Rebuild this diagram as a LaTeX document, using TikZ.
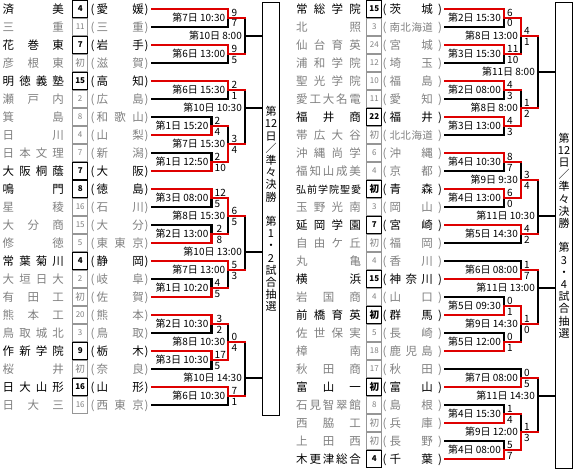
\documentclass[tikz,border=0pt]{standalone}
\usepackage{fontspec}
\setmainfont{Noto Sans CJK JP}
\definecolor{bred}{RGB}{222,0,0}
\definecolor{txtgray}{RGB}{128,128,128}
\definecolor{boxgray}{RGB}{150,150,150}
\tikzset{
 ln/.style={line width=2.2pt, line cap=rect},
 B/.style={ln, draw=black},
 W/.style={ln, draw=bred},
 nm/.style={inner sep=0pt, font=\fontsize{11.5}{12}\selectfont},
 tw/.style={text=black}, tl/.style={text=txtgray},
 cnt/.style={inner sep=0pt, minimum width=15pt},
 bw/.style={draw=black, line width=1.3pt, text=black, minimum height=16.5pt, font=\fontsize{8}{8}\selectfont\bfseries},
 bl/.style={draw=boxgray, line width=0.8pt, text=txtgray, minimum height=17.5pt, font=\fontsize{8}{8}\selectfont},
 lbl/.style={inner sep=0pt, font=\fontsize{10}{10}\selectfont},
 scr/.style={inner sep=0pt, font=\fontsize{10}{10}\selectfont},
 vbox/.style={draw, line width=1pt, minimum width=17pt, anchor=north west, inner sep=0pt, align=center, font=\fontsize{11}{12.2}\selectfont},
}
\newcommand\firstapp{{\fontsize{9.5}{9.5}\selectfont 初}}
\newcommand\pfour[4]{{\fontsize{10.5}{10.5}\selectfont #1\hfill #2\hfill #3\hfill #4}}
\newcommand\teamL[6]{%
 \node[nm,t#3,anchor=base west] (Ln#1) at (2.5,#2+4.2) {\makebox[61.2pt][s]{#4}};
 \node[cnt,b#3] (Lc#1) at (80.2,#2) {#5};
 \node[nm,t#3,anchor=base] (Lo#1) at (92.5,#2+4.2) {(};
 \node[nm,t#3,anchor=base west] (Lp#1) at (96.3,#2+4.2) {\makebox[47.5pt][s]{#6}};
 \node[nm,t#3,anchor=base] (Lq#1) at (146.5,#2+4.2) {)};
 \coordinate (L#1) at (152,#2);}
\newcommand\teamR[6]{%
 \node[nm,t#3,anchor=base west] (Rn#1) at (296,#2+4.2) {\makebox[64.8pt][s]{#4}};
 \node[cnt,b#3] (Rc#1) at (374.3,#2) {#5};
 \node[nm,t#3,anchor=base] (Ro#1) at (384.5,#2+4.2) {(};
 \node[nm,t#3,anchor=base west] (Rp#1) at (389.3,#2+4.2) {\makebox[43.5pt][s]{#6}};
 \node[nm,t#3,anchor=base] (Rq#1) at (440,#2+4.2) {)};
 \coordinate (R#1) at (445,#2);}
\newcommand\mlab[2]{\node[lbl,anchor=base east] (#1l) at ([xshift=-3pt,yshift=-3.7pt]#1) {#2};}
\newcommand\mscore[4]{%
 \node[scr,anchor=base west] (#1a) at ([xshift=#4,yshift=1.3pt]#1) {#2};
 \node[scr,anchor=base west] (#1b) at ([xshift=#4,yshift=-9pt]#1) {#3};}
\begin{document}
\begin{tikzpicture}[x=1pt,y=-1pt]
\useasboundingbox (0,0) rectangle (573,471);
% boxes
\node[vbox, minimum height=413pt] (boxL) at (262,2) {第\\12\\日\\／\\準\\々\\決\\勝\\\mbox{}\\第\\1\\・\\2\\試\\合\\抽\\選};
\node[vbox, minimum height=466pt] (boxR) at (555,2) {第\\12\\日\\／\\準\\々\\決\\勝\\\mbox{}\\第\\3\\・\\4\\試\\合\\抽\\選};
% left teams
\teamL{0}{9}{w}{済\hfill 美}{4}{愛\hfill 媛}
\teamL{1}{27}{l}{三\hfill 重}{11}{三\hfill 重}
\teamL{2}{45}{w}{花\hfill 巻\hfill 東}{7}{岩\hfill 手}
\teamL{3}{63}{l}{彦\hfill 根\hfill 東}{\firstapp}{滋\hfill 賀}
\teamL{4}{81}{w}{明\hfill 徳\hfill 義\hfill 塾}{15}{高\hfill 知}
\teamL{5}{99}{l}{瀬\hfill 戸\hfill 内}{2}{広\hfill 島}
\teamL{6}{117}{l}{箕\hfill 島}{8}{和\hfill 歌\hfill 山}
\teamL{7}{135}{l}{日\hfill 川}{4}{山\hfill 梨}
\teamL{8}{153}{l}{日\hfill 本\hfill 文\hfill 理}{7}{新\hfill 潟}
\teamL{9}{171}{w}{大\hfill 阪\hfill 桐\hfill 蔭}{7}{大\hfill 阪}
\teamL{10}{189}{w}{鳴\hfill 門}{8}{徳\hfill 島}
\teamL{11}{207}{l}{星\hfill 稜}{16}{石\hfill 川}
\teamL{12}{225}{l}{大\hfill 分\hfill 商}{15}{大\hfill 分}
\teamL{13}{243}{l}{修\hfill 徳}{5}{東\hfill 東\hfill 京}
\teamL{14}{261}{w}{常\hfill 葉\hfill 菊\hfill 川}{4}{静\hfill 岡}
\teamL{15}{279}{l}{大\hfill 垣\hfill 日\hfill 大}{2}{岐\hfill 阜}
\teamL{16}{297}{l}{有\hfill 田\hfill 工}{\firstapp}{佐\hfill 賀}
\teamL{17}{315}{l}{熊\hfill 本\hfill 工}{20}{熊\hfill 本}
\teamL{18}{333}{l}{鳥\hfill 取\hfill 城\hfill 北}{3}{鳥\hfill 取}
\teamL{19}{351}{w}{作\hfill 新\hfill 学\hfill 院}{9}{栃\hfill 木}
\teamL{20}{369}{l}{桜\hfill 井}{\firstapp}{奈\hfill 良}
\teamL{21}{387}{w}{日\hfill 大\hfill 山\hfill 形}{16}{山\hfill 形}
\teamL{22}{405}{l}{日\hfill 大\hfill 三}{16}{西\hfill 東\hfill 京}
% right teams
\teamR{0}{9}{w}{常\hfill 総\hfill 学\hfill 院}{15}{茨\hfill 城}
\teamR{1}{27}{l}{北\hfill 照}{3}{\pfour{南}{北}{海}{道}}
\teamR{2}{45}{l}{仙\hfill 台\hfill 育\hfill 英}{24}{宮\hfill 城}
\teamR{3}{63}{l}{浦\hfill 和\hfill 学\hfill 院}{12}{埼\hfill 玉}
\teamR{4}{81}{l}{聖\hfill 光\hfill 学\hfill 院}{10}{福\hfill 島}
\teamR{5}{99}{l}{愛\hfill 工\hfill 大\hfill 名\hfill 電}{11}{愛\hfill 知}
\teamR{6}{117}{w}{福\hfill 井\hfill 商}{22}{福\hfill 井}
\teamR{7}{135}{l}{帯\hfill 広\hfill 大\hfill 谷}{\firstapp}{\pfour{北}{北}{海}{道}}
\teamR{8}{153}{l}{沖\hfill 縄\hfill 尚\hfill 学}{6}{沖\hfill 縄}
\teamR{9}{171}{l}{福\hfill 知\hfill 山\hfill 成\hfill 美}{4}{京\hfill 都}
\teamR{10}{189}{w}{{\fontsize{10}{10}\selectfont 弘\hfill 前\hfill 学\hfill 院\hfill 聖\hfill 愛}}{\firstapp}{青\hfill 森}
\teamR{11}{207}{l}{玉\hfill 野\hfill 光\hfill 南}{3}{岡\hfill 山}
\teamR{12}{225}{w}{延\hfill 岡\hfill 学\hfill 園}{7}{宮\hfill 崎}
\teamR{13}{243}{l}{自\hfill 由\hfill ケ\hfill 丘}{\firstapp}{福\hfill 岡}
\teamR{14}{261}{l}{丸\hfill 亀}{4}{香\hfill 川}
\teamR{15}{279}{w}{横\hfill 浜}{15}{神\hfill 奈\hfill 川}
\teamR{16}{297}{l}{岩\hfill 国\hfill 商}{4}{山\hfill 口}
\teamR{17}{315}{w}{前\hfill 橋\hfill 育\hfill 英}{\firstapp}{群\hfill 馬}
\teamR{18}{333}{l}{佐\hfill 世\hfill 保\hfill 実}{5}{長\hfill 崎}
\teamR{19}{351}{l}{樟\hfill 南}{18}{鹿\hfill 児\hfill 島}
\teamR{20}{369}{l}{秋\hfill 田\hfill 商}{17}{秋\hfill 田}
\teamR{21}{387}{w}{富\hfill 山\hfill 一}{\firstapp}{富\hfill 山}
\teamR{22}{405}{l}{石\hfill 見\hfill 智\hfill 翠\hfill 館}{8}{島\hfill 根}
\teamR{23}{423}{l}{西\hfill 脇\hfill 工}{\firstapp}{兵\hfill 庫}
\teamR{24}{441}{l}{上\hfill 田\hfill 西}{\firstapp}{長\hfill 野}
\teamR{25}{459}{w}{木\hfill 更\hfill 津\hfill 総\hfill 合}{4}{千\hfill 葉}
% match points
\coordinate (m1) at (228.3,18); \coordinate (m2) at (228.3,54); \coordinate (m3) at (245,36);
\coordinate (m4) at (228.3,90); \coordinate (m5) at (211.5,126); \coordinate (m6) at (211.5,162);
\coordinate (m7) at (228.3,144); \coordinate (m8) at (245,108); \coordinate (m9) at (211.5,198);
\coordinate (m10) at (211.5,234); \coordinate (m11) at (228.3,216); \coordinate (m12) at (228.3,270);
\coordinate (m13) at (211.5,288); \coordinate (m14) at (245,252); \coordinate (m15) at (211.5,324);
\coordinate (m16) at (211.5,360); \coordinate (m17) at (228.3,342); \coordinate (m18) at (228.3,396);
\coordinate (m19) at (245,378);
\coordinate (n1) at (504,18); \coordinate (n2) at (504,54); \coordinate (n3) at (521,36);
\coordinate (n4) at (504,90); \coordinate (n5) at (504,126); \coordinate (n6) at (521,108);
\coordinate (n7) at (538,72); \coordinate (n8) at (504,162); \coordinate (n9) at (504,198);
\coordinate (n10) at (521,180); \coordinate (n11) at (521,234); \coordinate (n12) at (538,216);
\coordinate (n13) at (521,270); \coordinate (n14) at (504,306); \coordinate (n15) at (504,342);
\coordinate (n16) at (521,324); \coordinate (n17) at (538,288); \coordinate (n18) at (521,378);
\coordinate (n19) at (504,414); \coordinate (n20) at (504,450); \coordinate (n21) at (521,432);
\coordinate (n22) at (538,396);
% left black
\draw[B] (L1) -| (m1);
\draw[B] (L3) -| (m2);
\draw[B] (m1 -| m3) -- (m2 -| m3);
\draw[B] (m3) -- (m3 -| boxL.west);
\draw[B] (L5) -| (m4);
\draw[B] (L6) -| (m5);
\draw[B] (L8) -| (m6);
\draw[B] (m5 -| m7) -- (m7);
\draw[B] (m4 -| m8) -- (m7 -| m8);
\draw[B] (m8) -- (m8 -| boxL.west);
\draw[B] (L11) -| (m9);
\draw[B] (L12) -| (m10);
\draw[B] (m10 -| m11) -- (m11);
\draw[B] (L15) -| (m13);
\draw[B] (m13 -| m12) -- (m12);
\draw[B] (m11 -| m14) -- (m12 -| m14);
\draw[B] (m14) -- (m14 -| boxL.west);
\draw[B] (L18) -| (m15);
\draw[B] (L20) -| (m16);
\draw[B] (m15 -| m17) -- (m17);
\draw[B] (L22) -| (m18);
\draw[B] (m17 -| m19) -- (m18 -| m19);
\draw[B] (m19) -- (m19 -| boxL.west);
% left red
\draw[W] (L0) -| (m1) -- (m1 -| m3);
\draw[W] (L2) -| (m2) -- (m2 -| m3);
\draw[W] (L4) -| (m4) -- (m4 -| m8);
\draw[W] (L7) -| (m5) -- (m5 -| m7);
\draw[W] (L9) -| (m6) -- (m6 -| m7);
\draw[W] (m6 -| m7) -- (m7) -- (m7 -| m8);
\draw[W] (L10) -| (m9) -- (m9 -| m11);
\draw[W] (L13) -| (m10) -- (m10 -| m11);
\draw[W] (m9 -| m11) -- (m11) -- (m11 -| m14);
\draw[W] (L16) -| (m13) -- (m13 -| m12);
\draw[W] (L14) -| (m12) -- (m12 -| m14);
\draw[W] (L17) -| (m15) -- (m15 -| m17);
\draw[W] (L19) -| (m16) -- (m16 -| m17);
\draw[W] (m16 -| m17) -- (m17) -- (m17 -| m19);
\draw[W] (L21) -| (m18) -- (m18 -| m19);
% right black
\draw[B] (R1) -| (n1);
\draw[B] (R3) -| (n2);
\draw[B] (n2 -| n3) -- (n3);
\draw[B] (R5) -| (n4);
\draw[B] (R7) -| (n5);
\draw[B] (n4 -| n6) -- (n6);
\draw[B] (n3 -| n7) -- (n6 -| n7);
\draw[B] (n7) -- (n7 -| boxR.west);
\draw[B] (R9) -| (n8);
\draw[B] (R11) -| (n9);
\draw[B] (n8 -| n10) -- (n10);
\draw[B] (R13) -| (n11);
\draw[B] (n10 -| n12) -- (n11 -| n12);
\draw[B] (n12) -- (n12 -| boxR.west);
\draw[B] (R14) -| (n13);
\draw[B] (R16) -| (n14);
\draw[B] (R18) -| (n15);
\draw[B] (n15 -| n16) -- (n16);
\draw[B] (n13 -| n17) -- (n16 -| n17);
\draw[B] (n17) -- (n17 -| boxR.west);
\draw[B] (R20) -| (n18);
\draw[B] (R22) -| (n19);
\draw[B] (R24) -| (n20);
\draw[B] (n19 -| n21) -- (n21);
\draw[B] (n18 -| n22) -- (n21 -| n22);
\draw[B] (n22) -- (n22 -| boxR.west);
% right red
\draw[W] (R0) -| (n1) -- (n1 -| n3);
\draw[W] (R2) -| (n2) -- (n2 -| n3);
\draw[W] (n1 -| n3) -- (n3) -- (n3 -| n7);
\draw[W] (R4) -| (n4) -- (n4 -| n6);
\draw[W] (R6) -| (n5) -- (n5 -| n6);
\draw[W] (n5 -| n6) -- (n6) -- (n6 -| n7);
\draw[W] (R8) -| (n8) -- (n8 -| n10);
\draw[W] (R10) -| (n9) -- (n9 -| n10);
\draw[W] (n9 -| n10) -- (n10) -- (n10 -| n12);
\draw[W] (R12) -| (n11) -- (n11 -| n12);
\draw[W] (R15) -| (n13) -- (n13 -| n17);
\draw[W] (R17) -| (n14) -- (n14 -| n16);
\draw[W] (R19) -| (n15) -- (n15 -| n16);
\draw[W] (n14 -| n16) -- (n16) -- (n16 -| n17);
\draw[W] (R21) -| (n18) -- (n18 -| n22);
\draw[W] (R23) -| (n19) -- (n19 -| n21);
\draw[W] (R25) -| (n20) -- (n20 -| n21);
\draw[W] (n20 -| n21) -- (n21) -- (n21 -| n22);
% left labels & scores
\mlab{m1}{第7日 10:30}\mscore{m1}{9}{7}{3pt}
\mlab{m2}{第6日 13:00}\mscore{m2}{9}{5}{3pt}
\mlab{m3}{第10日 8:00}
\mlab{m4}{第6日 15:30}\mscore{m4}{2}{1}{3pt}
\mlab{m5}{第1日 15:20}\mscore{m5}{2}{4}{3pt}
\mlab{m6}{第1日 12:50}\mscore{m6}{2}{10}{3pt}
\mlab{m7}{第7日 15:30}\mscore{m7}{3}{4}{3pt}
\mlab{m8}{第10日 10:30}
\mlab{m9}{第3日 08:00}\mscore{m9}{12}{5}{3pt}
\mlab{m10}{第2日 13:00}\mscore{m10}{2}{8}{5pt}
\mlab{m11}{第8日 15:30}\mscore{m11}{6}{5}{3pt}
\mlab{m12}{第7日 13:00}\mscore{m12}{5}{3}{3pt}
\mlab{m13}{第1日 10:20}\mscore{m13}{4}{5}{3pt}
\mlab{m14}{第10日 13:00}
\mlab{m15}{第2日 10:30}\mscore{m15}{3}{2}{5pt}
\mlab{m16}{第3日 10:30}\mscore{m16}{17}{5}{3pt}
\mlab{m17}{第8日 10:30}\mscore{m17}{0}{4}{3pt}
\mlab{m18}{第6日 10:30}\mscore{m18}{7}{1}{3pt}
\mlab{m19}{第10日 14:30}
% right labels & scores
\mlab{n1}{第2日 15:30}\mscore{n1}{6}{0}{3pt}
\mlab{n2}{第3日 15:30}\mscore{n2}{11}{10}{3pt}
\mlab{n3}{第8日 13:00}\mscore{n3}{4}{1}{3pt}
\mlab{n4}{第2日 08:00}\mscore{n4}{4}{3}{3pt}
\mlab{n5}{第3日 13:00}\mscore{n5}{4}{3}{3pt}
\mlab{n6}{第8日 8:00}\mscore{n6}{1}{2}{3pt}
\mlab{n7}{第11日 8:00}
\mlab{n8}{第4日 10:30}\mscore{n8}{8}{7}{3pt}
\mlab{n9}{第4日 13:00}\mscore{n9}{6}{0}{3pt}
\mlab{n10}{第9日 9:30}\mscore{n10}{3}{4}{3pt}
\mlab{n11}{第5日 14:30}\mscore{n11}{4}{2}{3pt}
\mlab{n12}{第11日 10:30}
\mlab{n13}{第6日 08:00}\mscore{n13}{1}{7}{3pt}
\mlab{n14}{第5日 09:30}\mscore{n14}{0}{1}{3pt}
\mlab{n15}{第5日 12:00}\mscore{n15}{0}{1}{3pt}
\mlab{n16}{第9日 14:30}\mscore{n16}{1}{0}{3pt}
\mlab{n17}{第11日 13:00}
\mlab{n18}{第7日 08:00}\mscore{n18}{0}{5}{3pt}
\mlab{n19}{第4日 15:30}\mscore{n19}{1}{4}{3pt}
\mlab{n20}{第4日 08:00}\mscore{n20}{5}{7}{3pt}
\mlab{n21}{第9日 12:00}\mscore{n21}{1}{3}{3pt}
\mlab{n22}{第11日 14:30}
\end{tikzpicture}
\end{document}
